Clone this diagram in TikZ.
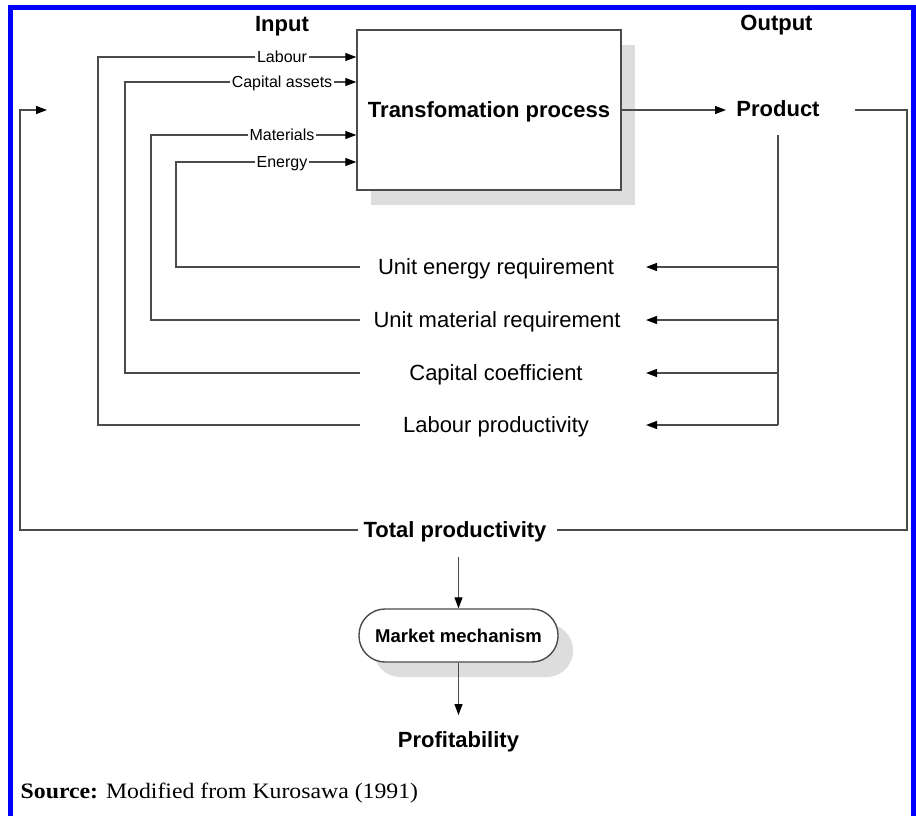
\documentclass[tikz,border=0pt]{standalone}
\usepackage{fontspec}
\setmainfont{Liberation Sans}
\newfontfamily\serifsrc[FakeStretch=1.08]{Liberation Serif}
\usetikzlibrary{arrows.meta,shadows}
\definecolor{linegray}{RGB}{75,75,75}
\definecolor{shadowgray}{RGB}{221,221,221}
\definecolor{frameblue}{RGB}{0,0,255}
\begin{document}
\begin{tikzpicture}[x=1pt,y=-1pt,
  ln/.style={draw=linegray, line width=1.4pt},
  arr/.style={draw=linegray, line width=1.3pt, -{Triangle[length=11pt,width=8pt,color=black]}},
  big/.style={font=\fontsize{22}{26}\selectfont, text height=15.8pt, text depth=0pt, inner sep=0pt},
  bigb/.style={big, font=\fontsize{22}{26}\selectfont\bfseries},
  small/.style={font=\fontsize{16}{19}\selectfont, text height=11.5pt, text depth=0pt, inner sep=1.5pt, fill=white},
  procbox/.style={draw=linegray, line width=1.4pt, fill=white, minimum width=264pt, minimum height=160pt,
    general shadow={fill=shadowgray, shadow xshift=14pt, shadow yshift=-15pt}},
  mmbox/.style={draw=linegray, line width=1.4pt, fill=white, rounded corners=26pt, minimum width=199pt, minimum height=53pt,
    general shadow={fill=shadowgray, shadow xshift=15pt, shadow yshift=-15pt},
    font=\fontsize{18.5}{22}\selectfont\bfseries, text height=13.2pt, text depth=0pt, inner sep=0pt}
]
\useasboundingbox (0,0) rectangle (916,816);
\fill[white] (0,0) rectangle (916,816);

% blue frame
\draw[frameblue, line width=5pt] (10.5,830) -- (10.5,7.5) -- (913.5,7.5) -- (913.5,830);

% headings
\node[bigb] (inp) at (282,23.5) {Input};
\node[bigb] (outp) at (776.5,23) {Output};

% transformation process
\node[procbox, bigb] (proc) at (489,110) {Transfomation process};

% input labels
\node[small] (labL) at (282,57) {Labour};
\node[small] (capL) at (282,82) {Capital assets};
\node[small] (matL) at (282,135) {Materials};
\node[small] (eneL) at (282,162) {Energy};

\draw[arr] (labL.east) -- (proc.west |- labL.east);
\draw[arr] (capL.east) -- (proc.west |- capL.east);
\draw[arr] (matL.east) -- (proc.west |- matL.east);
\draw[arr] (eneL.east) -- (proc.west |- eneL.east);

% feedback texts
\node[big] (ue) at (496,267) {Unit energy requirement};
\node[big] (um) at (497,320) {Unit material requirement};
\node[big] (cc) at (496,373) {Capital coefficient};
\node[big] (lp) at (496,425) {Labour productivity};

\coordinate (ueA) at (360,267);
\coordinate (umA) at (360,320);
\coordinate (ccA) at (360,373);
\coordinate (lpA) at (360,425);
\coordinate (ueR) at (646,267);
\coordinate (umR) at (646,320);
\coordinate (ccR) at (646,373);
\coordinate (lpR) at (646,425);

\coordinate (cE) at (176,267);
\coordinate (cM) at (151,320);
\coordinate (cC) at (125,373);
\coordinate (cL) at (98,425);

\draw[ln] (labL.west) -| (cL) -- (lpA);
\draw[ln] (capL.west) -| (cC) -- (ccA);
\draw[ln] (matL.west) -| (cM) -- (umA);
\draw[ln] (eneL.west) -| (cE) -- (ueA);

% product
\node[bigb] (prod) at (778,109) {Product};
\coordinate (prodIn) at (726,110);
\draw[arr] (proc.east) -- (prodIn);

\coordinate (pv0) at (778,135);
\coordinate (pv1) at (778,425);
\draw[ln] (pv0) -- (pv1);
\draw[arr] (pv0 |- ueR) -- (ueR);
\draw[arr] (pv0 |- umR) -- (umR);
\draw[arr] (pv0 |- ccR) -- (ccR);
\draw[arr] (pv0 |- lpR) -- (lpR);

% total productivity
\node[bigb] (tot) at (455,529.5) {Total productivity};
\coordinate (tpL) at (358,530);
\coordinate (tpR) at (557,530);
\coordinate (lc1) at (20,530);
\coordinate (lc2) at (20,110);
\coordinate (lcTip) at (47,110);
\coordinate (rp) at (855,110);
\coordinate (rc1) at (907,110);
\coordinate (rc2) at (907,530);

\draw[arr] (tpL) -- (lc1) -- (lc2) -- (lcTip);
\draw[ln] (rp) -- (rc1) -- (rc2) -- (tpR);

% market mechanism
\node[mmbox] (mm) at (458.5,635.5) {Market mechanism};
\coordinate (tdA) at (458.5,557);
\draw[arr] (tdA) -- (mm.north);

\node[bigb] (prof) at (458.5,739.5) {Profitability};
\coordinate (pfA) at (458.5,715);
\draw[arr] (mm.south) -- (pfA);

% source
\node[anchor=base west, inner sep=0pt, font=\serifsrc\fontsize{22}{26}\selectfont] (src) at (20.5,798) {\textbf{Source:} Modified from Kurosawa (1991)};
\end{tikzpicture}
\end{document}
